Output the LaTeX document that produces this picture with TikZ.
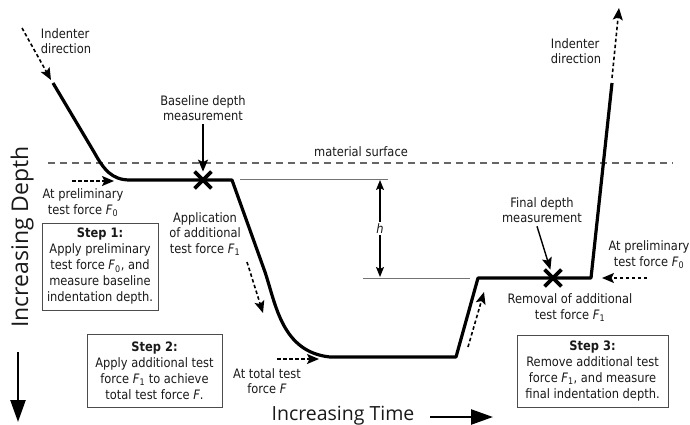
\documentclass[tikz,border=0pt]{standalone}
\usepackage{fontspec}
\setmainfont{DejaVu Sans}[FakeStretch=0.88]
\newfontfamily\axisfont{Open Sans}
\usetikzlibrary{arrows.meta,shapes.misc}

\newcommand{\Fz}{\textit{F}\textsubscript{0}}
\newcommand{\Fo}{\textit{F}\textsubscript{1}}

\tikzset{
  curve/.style={line width=3.2pt, line join=round},
  dasharr/.style={line width=1.6pt, dash pattern=on 3.5pt off 2.5pt, -{Stealth[length=12pt,width=10pt,inset=2.5pt]}},
  solidarr/.style={line width=1.4pt, -{Stealth[length=12pt,width=10pt,inset=2.5pt]}},
  bigarr/.style={line width=2.4pt, -{Triangle[length=22pt,width=15pt]}},
  lbl/.style={align=center, text=black!90, font=\fontsize{13}{15.5}\selectfont},
  stepbox/.style={lbl, draw=black!70, line width=0.8pt, inner sep=2pt, font=\fontsize{13}{16}\selectfont},
  xmark/.style={cross out, draw, line width=3.8pt, minimum size=13pt, inner sep=0pt},
  refline/.style={black!55, line width=0.9pt},
  surface/.style={black!60, line width=1.3pt, dash pattern=on 7pt off 5pt},
}

\begin{document}
\begin{tikzpicture}[x=1pt, y=-1pt]
    \useasboundingbox (0,0) rectangle (690,425);

    % surface and depth references
    \draw[surface] (48,163) -- (673,163);
    \node[lbl] (surf) at (361,152) {material surface};
    \draw[refline] (240,179) -- (388,179);
    \draw[refline] (363,278) -- (470,278);
    \draw[line width=1.4pt, {Stealth[length=10pt,width=8pt,inset=2pt]}-{Stealth[length=10pt,width=8pt,inset=2pt]}] (380,180) -- (380,277)
        node[midway, fill=white, lbl, inner sep=2pt] (h) {\textit{h}};

    % indenter path
    \draw[curve] (53,83) -- (94,152) .. controls (104,170) and (112,180) .. (130,180)
        -- (232,180) -- (265,272) .. controls (276,305) and (282,352) .. (330,357)
        -- (456,357) -- (478,278) -- (591,278) -- (612,83);

    \node[xmark] (xb) at (203,180) {};
    \node[xmark] (xf) at (553,278) {};

    % labels
    \node[lbl, align=left] (indl) at (66,41) {Indenter\\direction};
    \node[lbl] (bsl) at (203,108) {Baseline depth\\measurement};
    \node[lbl] (prel) at (83,203) {At preliminary\\test force \Fz};
    \node[lbl] (app) at (205,234) {Application\\of additional\\test force \Fo};
    \node[lbl] (tot) at (267,381) {At total test\\force \textit{F}};
    \node[lbl] (fdm) at (542,210) {Final depth\\measurement};
    \node[lbl] (prer) at (649,255) {At preliminary\\test force \Fz};
    \node[lbl] (rem) at (570,308) {Removal of additional\\test force \Fo};
    \node[lbl, align=left] (indr) at (576,51) {Indenter\\direction};

    \node[stepbox, minimum width=116pt, minimum height=87pt] (step1) at (100,266.5)
        {\textbf{Step 1:}\\Apply preliminary\\test force \Fz, and\\measure baseline\\indentation depth.};
    \node[stepbox, minimum width=135pt, minimum height=73pt] (step2) at (154.5,370.5)
        {\textbf{Step 2:}\\Apply additional test\\force \Fo{} to achieve\\total test force \textit{F}.};
    \node[stepbox, minimum width=151pt, minimum height=72pt] (step3) at (592.5,371)
        {\textbf{Step 3:}\\Remove additional test\\force \Fo, and measure\\final indentation depth.};

    % pointers
    \draw[solidarr] (bsl) -- (xb);
    \draw[solidarr] ([xshift=-5pt]fdm.south) -- (xf);

    \coordinate (il0) at (22,28);   \coordinate (il1) at (51,80);
    \coordinate (pl0) at (72,181);  \coordinate (pl1) at (114,181);
    \coordinate (sl0) at (247,262); \coordinate (sl1) at (263,313);
    \coordinate (tt0) at (277,359); \coordinate (tt1) at (319,359);
    \coordinate (up0) at (468,347); \coordinate (up1) at (484,292);
    \coordinate (pr0) at (647,278); \coordinate (pr1) at (602,278);
    \coordinate (ir0) at (612,78);  \coordinate (ir1) at (619,8);
    \draw[dasharr] (il0) -- (il1);
    \draw[dasharr] (pl0) -- (pl1);
    \draw[dasharr] (sl0) -- (sl1);
    \draw[dasharr] (tt0) -- (tt1);
    \draw[dasharr] (up0) -- (up1);
    \draw[dasharr] (pr0) -- (pr1);
    \draw[dasharr] (ir0) -- (ir1);

    % axes
    \node[anchor=base, rotate=90, text=black!90, font=\axisfont\fontsize{23}{23}\selectfont] (depth) at (28,237) {Increasing Depth};
    \node[anchor=base, text=black!90, font=\axisfont\fontsize{19.5}{19.5}\selectfont] (time) at (343,420) {Increasing Time};
    \coordinate (d0) at (18,352); \coordinate (d1) at (18,422);
    \coordinate (t0) at (430,417); \coordinate (t1) at (493,417);
    \draw[bigarr] (d0) -- (d1);
    \draw[bigarr] (t0) -- (t1);

\end{tikzpicture}
\end{document}
